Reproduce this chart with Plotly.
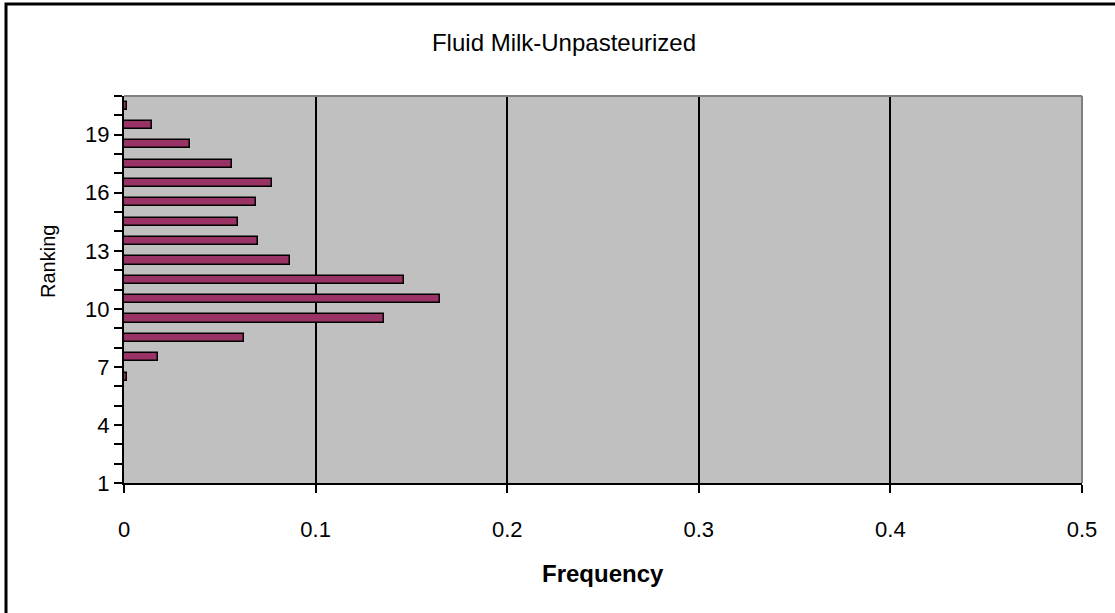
import plotly.graph_objects as go

ranks = [1, 2, 3, 4, 5, 6, 7, 8, 9, 10, 11, 12, 13, 14, 15, 16, 17, 18, 19, 20]
frequency = [0, 0, 0, 0, 0, 0.0015, 0.0177, 0.0626, 0.1357, 0.1649,
             0.1461, 0.0866, 0.0701, 0.0595, 0.0689, 0.0773, 0.0566, 0.0346, 0.0146, 0.0015]
rank_labels = ["1", "", "", "4", "", "", "7", "", "", "10", "", "", "13", "", "", "16", "", "", "19", "", ""]
x_ticks = [0, 0.1, 0.2, 0.3, 0.4, 0.5]

FONT = "Liberation Sans, Arial, sans-serif"
W, H = 1115, 613
L, R, T, B = 124, 33, 96, 130
pw, ph = W - L - R, H - T - B

def px(x):
    return (x - L) / pw

def py(y):
    return (H - B - y) / ph

fig = go.Figure()
fig.add_trace(go.Bar(
    y=ranks, x=frequency, orientation="h", width=0.42,
    marker=dict(color="#993366", line=dict(color="black", width=1.5)),
))

boundaries = [r - 0.5 for r in ranks] + [ranks[-1] + 0.5]

fig.update_layout(
    width=W, height=H,
    margin=dict(l=L, r=R, t=T, b=B, autoexpand=False),
    paper_bgcolor="white", plot_bgcolor="#C0C0C0",
    showlegend=False,
    font=dict(family=FONT, size=22, color="black"),
    title=dict(text="Fluid Milk-Unpasteurized", x=564 / W, xanchor="center",
               y=1 - 43 / H, yanchor="middle", yref="container",
               font=dict(family=FONT, size=24, color="black")),
    xaxis=dict(range=[0, 0.5], tickvals=x_ticks, ticktext=[str(v) for v in x_ticks],
               showgrid=True, gridcolor="black", gridwidth=1.7,
               zeroline=False, showline=True, linecolor="black", linewidth=2,
               ticks="outside", ticklen=8, tickwidth=2, tickcolor="black",
               ticklabelstandoff=18, automargin=False,
               tickfont=dict(family=FONT, size=22)),
    yaxis=dict(range=[0.5, 20.5], tickvals=boundaries, ticktext=rank_labels,
               showgrid=False, zeroline=False, showline=True, linecolor="black", linewidth=2,
               ticks="outside", ticklen=8, tickwidth=2, tickcolor="black",
               ticklabelstandoff=0, automargin=False,
               tickfont=dict(family=FONT, size=22)),
    bargap=0,
    annotations=[
        dict(text="<b>Frequency</b>", x=0.5, y=py(573), xref="paper", yref="paper",
             xanchor="center", yanchor="middle", showarrow=False,
             font=dict(family=FONT, size=24, color="black")),
        dict(text="Ranking", x=px(48), y=py(262), xref="paper", yref="paper",
             xanchor="center", yanchor="middle", showarrow=False, textangle=-90,
             font=dict(family=FONT, size=20, color="black")),
    ],
    shapes=[
        dict(type="line", xref="paper", yref="paper", x0=0, x1=1, y0=1, y1=1,
             line=dict(color="#808080", width=2), layer="above"),
        dict(type="line", xref="paper", yref="paper", x0=1, x1=1, y0=0, y1=1,
             line=dict(color="#808080", width=2), layer="above"),
        dict(type="rect", xref="paper", yref="paper",
             x0=px(6), x1=px(W + 5), y0=py(H + 5), y1=py(4),
             line=dict(color="black", width=3), fillcolor="rgba(0,0,0,0)", layer="above"),
    ],
)

fig.write_html("out.html")
